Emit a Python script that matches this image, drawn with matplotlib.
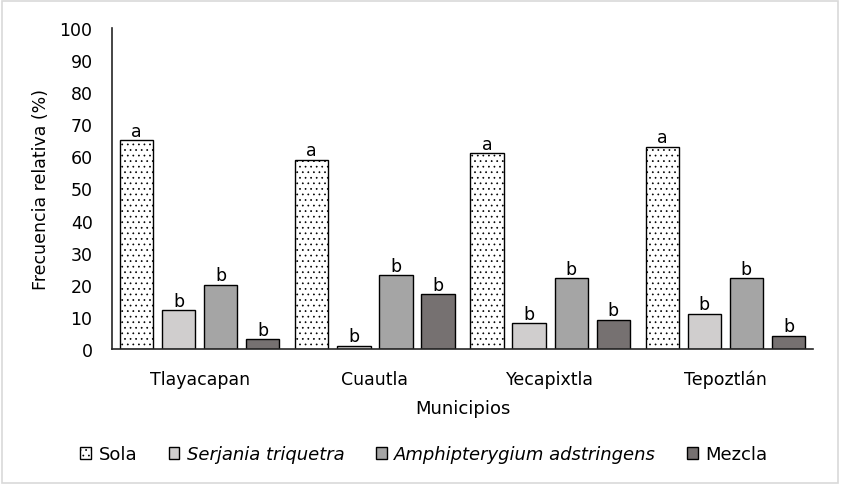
import matplotlib
matplotlib.use("Agg")
import matplotlib.pyplot as plt
import numpy as np
from matplotlib.patches import Rectangle

plt.rcParams['font.family'] = ['DejaVu Sans']
plt.rcParams['hatch.linewidth'] = 0.5

# Data
municipios = ['Tlayacapan', 'Cuautla', 'Yecapixtla', 'Tepoztlán']
series = ['Sola', 'Serjania triquetra', 'Amphipterygium adstringens', 'Mezcla']
sola = [65, 59, 61, 63]
serjania = [12, 1, 8, 11]
amphipterygium = [20, 23, 22, 22]
mezcla = [3, 17, 9, 4]
letras_sola = ['a', 'a', 'a', 'a']
letras_otras = ['b', 'b', 'b', 'b']
yticks = [0, 10, 20, 30, 40, 50, 60, 70, 80, 90, 100]

fig = plt.figure(figsize=(8.41, 4.85), dpi=100)
ax = fig.add_axes([0.1332, 0.2784, 0.8335, 0.6618])

# Frame around the whole picture
fig.patches.append(Rectangle((0.002, 0.003), 0.995, 0.993, transform=fig.transFigure,
                             fill=False, edgecolor='#d9d9d9', linewidth=1.2))

x = np.arange(len(municipios))
width = 0.19
step = 0.24
colors = ['white', '#d0cece', '#a5a5a5', '#767171']
data = [sola, serjania, amphipterygium, mezcla]
hatches = ['...', None, None, None]

for i, (vals, col, h) in enumerate(zip(data, colors, hatches)):
    pos = x + (i - 1.5) * step
    bars = ax.bar(pos, vals, width, color=col, edgecolor='black', linewidth=1.0,
                  hatch=h, label=series[i])
    labels = letras_sola if i == 0 else letras_otras
    for b, lab in zip(bars, labels):
        ax.text(b.get_x() + b.get_width() / 2, b.get_height() + 0.2, lab,
                ha='center', va='bottom', fontsize=12.5)

ax.set_xlim(-0.5, 3.5)
ax.set_ylim(0, 100)
ax.set_yticks(yticks)
ax.set_xticks(x)
ax.set_xticklabels(municipios, fontsize=12.5)
ax.tick_params(axis='y', length=0, pad=14, labelsize=12.5)
ax.tick_params(axis='x', length=0, pad=15)

for s in ['top', 'right']:
    ax.spines[s].set_visible(False)
ax.spines['left'].set_color('#262626')
ax.spines['bottom'].set_color('#262626')
ax.spines['left'].set_linewidth(1.2)
ax.spines['bottom'].set_linewidth(1.2)

ax.set_ylabel('Frecuencia relativa (%)', fontsize=12.5, labelpad=7)
ax.set_xlabel('Municipios', fontsize=13, labelpad=8)

leg = ax.legend(loc='upper center', bbox_to_anchor=(0.445, -0.25), ncol=4,
                frameon=False, fontsize=13, handlelength=0.6, handleheight=0.6,
                handletextpad=0.4, columnspacing=1.75)
for t in leg.get_texts()[1:3]:
    t.set_fontstyle('italic')
for p in leg.get_patches():
    p.set_linewidth(1.0)

fig.savefig('out.png', dpi=100)
